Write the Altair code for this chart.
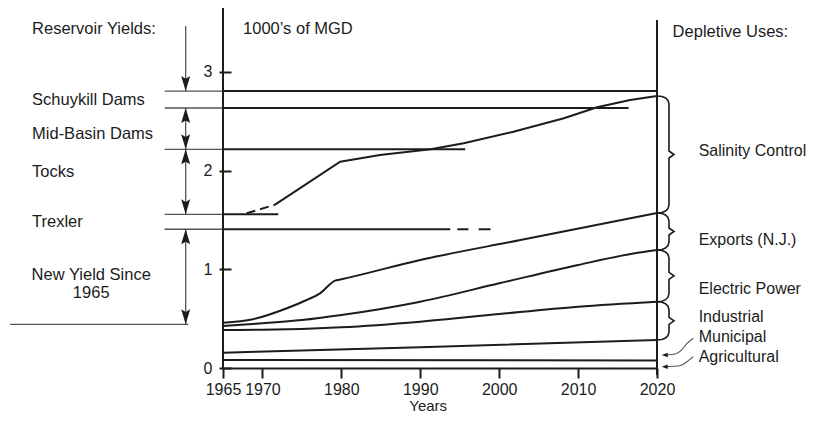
import altair as alt
import pandas as pd

# ---------------- data ----------------
# Depletive uses: cumulative curves, 1000's of MGD
agri_years = [1965, 2020]
agri_vals = [0.081, 0.076]
muni_years = [1965, 1990, 2020]
muni_vals = [0.155, 0.21, 0.284]
indus_years = [1965, 1970, 1980, 1990, 2000, 2010, 2020]
indus_vals = [0.385, 0.387, 0.412, 0.469, 0.547, 0.621, 0.672]
elec_years = [1965, 1970, 1975, 1980, 1990, 2000, 2010, 2017, 2020]
elec_vals = [0.426, 0.453, 0.486, 0.537, 0.672, 0.858, 1.044, 1.16, 1.196]
export_years = [1965, 1968.8, 1973.1, 1975.6, 1977.3, 1979.2, 1980, 1990, 2002.7, 2020]
export_vals = [0.459, 0.494, 0.605, 0.689, 0.757, 0.885, 0.899, 1.095, 1.297, 1.571]
salinity_dash_years = [1968.0, 1971.6]
salinity_dash_vals = [1.568, 1.655]
salinity_years = [1971.6, 1979.85, 1984.9, 1991.3, 1995.5, 2001.8, 2008.2, 2012.4, 2016.6, 2020]
salinity_vals = [1.655, 2.091, 2.159, 2.216, 2.277, 2.395, 2.531, 2.642, 2.716, 2.757]

use_labels = ["Salinity Control", "Exports (N.J.)", "Electric Power",
              "Industrial", "Municipal", "Agricultural"]

# Reservoir yields: horizontal levels
yield_levels = [2.807, 2.635, 2.216, 1.558, 1.406, 0.443]
yield_start = [1957.6, 1957.6, 1957.6, 1957.6, 1957.6, 1938.0]
yield_end = [2020, 2016.4, 1995.7, 1972.0, 1993.8, 1960.6]
trexler_dash_start = [1994.7, 1997.4]
trexler_dash_end = [1996.1, 1998.9]
yield_labels = ["Schuykill Dams", "Mid-Basin Dams", "Tocks", "Trexler"]

x_ticks = [1965, 1970, 1980, 1990, 2000, 2010, 2020]
y_ticks = [0, 1, 2, 3]

# ---------------- layout / style ----------------
INK = "#1c1c1c"
GREY = "#555555"
FONT = "Liberation Sans"
FS = 16.5
W, H = 434, 360
X0, X1 = 1965, 2020
Y0, Y1 = 0, 3.6486
PX_X = W / (X1 - X0)
PX_Y = H / (Y1 - Y0)

xs = alt.Scale(domain=[X0, X1], nice=False, zero=False)
ys = alt.Scale(domain=[Y0, Y1], nice=False, zero=False)
xaxis = alt.Axis(values=x_ticks, format="d", title=None, tickSize=10, tickWidth=2,
                 tickColor=INK, domainColor=INK, domainWidth=2, labelFontSize=16,
                 labelFont=FONT, labelColor=INK, labelPadding=3, grid=False,
                 labelFlush=False, labelOverlap=False)
yaxis = alt.Axis(values=y_ticks, format="d", title=None, tickSize=12, tickWidth=2,
                 tickColor=INK, domain=False, offset=-8, labelFontSize=16,
                 labelFont=FONT, labelColor=INK, labelPadding=7, grid=False,
                 labelFlush=False, labelOverlap=False)


def X(f):
    return alt.X(f, type="quantitative", scale=xs, axis=xaxis)


def Y(f):
    return alt.Y(f, type="quantitative", scale=ys, axis=yaxis)


# ---------------- curves ----------------
rows = []
for name, yrs, vals in [("agri", agri_years, agri_vals), ("muni", muni_years, muni_vals),
                        ("indus", indus_years, indus_vals), ("elec", elec_years, elec_vals),
                        ("export", export_years, export_vals)]:
    for i, (yr, v) in enumerate(zip(yrs, vals)):
        rows.append({"s": name, "year": yr, "val": v, "i": i})
curves = pd.DataFrame(rows)
sal_df = pd.DataFrame({"year": salinity_years, "val": salinity_vals})
dash_df = pd.DataFrame({"year": salinity_dash_years, "val": salinity_dash_vals})

curve_layer = alt.Chart(curves).mark_line(color=INK, strokeWidth=2, interpolate="monotone").encode(
    x=X("year"), y=Y("val"), detail="s:N", order="i:Q")
sal_layer = alt.Chart(sal_df).mark_line(color=INK, strokeWidth=2).encode(
    x=X("year"), y=Y("val"))
dash_layer = alt.Chart(dash_df).mark_line(color=INK, strokeWidth=2, strokeDash=[9, 5]).encode(
    x=X("year"), y=Y("val"))

# ---------------- reservoir yield levels ----------------
left_rows, right_rows = [], []
for lv, s, e in zip(yield_levels, yield_start, yield_end):
    left_rows.append({"x0": s, "x1": min(e, X0), "y": lv})
    if e > X0:
        right_rows.append({"x0": X0, "x1": e, "y": lv})
for s, e in zip(trexler_dash_start, trexler_dash_end):
    right_rows.append({"x0": s, "x1": e, "y": yield_levels[4]})
left_lv = alt.Chart(pd.DataFrame(left_rows)).mark_rule(color=GREY, strokeWidth=1.3).encode(
    x=X("x0"), x2="x1", y=Y("y"))
right_lv = alt.Chart(pd.DataFrame(right_rows)).mark_rule(color=INK, strokeWidth=2).encode(
    x=X("x0"), x2="x1", y=Y("y"))

# axis frame lines
frame = pd.DataFrame({"x": [X0, X1], "y0": [Y0, -0.071], "y1": [Y1, 3.527]})
frame_layer = alt.Chart(frame).mark_rule(color=INK, strokeWidth=2).encode(
    x=X("x"), y=Y("y0"), y2="y1")

# ---------------- left vertical arrows ----------------
ARROW_X = 1960.27
top_of_arrow = 3.466
seg = pd.DataFrame({
    "x": [ARROW_X] * 4,
    "y0": [top_of_arrow, yield_levels[1], yield_levels[2], yield_levels[4]],
    "y1": [yield_levels[0], yield_levels[2], yield_levels[3], yield_levels[5]],
})
seg_layer = alt.Chart(seg).mark_rule(color=GREY, strokeWidth=1.3).encode(
    x=X("x"), y=Y("y0"), y2="y1")
DOWN = "M0,0L-0.6,-2L0,-1.65L0.6,-2Z"
UP = "M0,0L-0.6,2L0,1.65L0.6,2Z"
down_df = pd.DataFrame({"x": [ARROW_X] * 4,
                        "y": [yield_levels[0], yield_levels[2], yield_levels[3], yield_levels[5]]})
up_df = pd.DataFrame({"x": [ARROW_X] * 3,
                      "y": [yield_levels[1], yield_levels[2], yield_levels[4]]})
down_layer = alt.Chart(down_df).mark_point(shape=DOWN, filled=True, size=225, color=INK,
                                           opacity=1, strokeWidth=0).encode(x=X("x"), y=Y("y"))
up_layer = alt.Chart(up_df).mark_point(shape=UP, filled=True, size=225, color=INK,
                                       opacity=1, strokeWidth=0).encode(x=X("x"), y=Y("y"))

# ---------------- braces on the right ----------------
ends = [salinity_vals[-1], export_vals[-1], elec_vals[-1], indus_vals[-1], muni_vals[-1]]
brace_rows = []
for b in range(4):
    top, bot = ends[b], ends[b + 1]
    h = (top - bot) * PX_Y
    c, tip = 12, 5
    pts = [(0, 0), (5, 0.5), (8.5, 2), (11, 4.5), (c, min(8, h / 2 - 5)),
           (c, h / 2 - 3.5), (c + tip, h / 2), (c, h / 2 + 3.5), (c, max(h - 8, h / 2 + 5)),
           (11, h - 4.5), (8.5, h - 2), (5, h - 0.5), (0, h)]
    for i, (dx, dy) in enumerate(pts):
        brace_rows.append({"b": b, "i": i, "year": X1 + dx / PX_X, "val": top - dy / PX_Y})
brace_layer = alt.Chart(pd.DataFrame(brace_rows)).mark_line(color=INK, strokeWidth=1.6).encode(
    x=X("year"), y=Y("val"), detail="b:N", order="i:Q")

# small curved arrows for Municipal / Agricultural
arrow_rows = []
a1 = [(2024.6, 0.301), (2023.8, 0.250), (2023.1, 0.182), (2022.3, 0.142), (2021.2, 0.132)]
a2 = [(2024.6, 0.115), (2023.8, 0.064), (2022.9, 0.023), (2021.2, 0.013)]
for k, path in enumerate([a1, a2]):
    for i, (xx, yy) in enumerate(path):
        arrow_rows.append({"a": k, "i": i, "year": xx, "val": yy})
arrow_layer = alt.Chart(pd.DataFrame(arrow_rows)).mark_line(
    color=GREY, strokeWidth=1.1, interpolate="monotone").encode(
    x=X("year"), y=Y("val"), detail="a:N", order="i:Q")
LEFT = "M0,0L2,-0.75L2,0.75Z"
head_df = pd.DataFrame({"year": [2020.6, 2020.6], "val": [0.132, 0.013]})
head_layer = alt.Chart(head_df).mark_point(shape=LEFT, filled=True, size=36, color=INK,
                                           opacity=1, strokeWidth=0).encode(
    x=X("year"), y=Y("val"))

# ---------------- text ----------------
def text_layer(df, align="left", size=FS):
    return alt.Chart(df).mark_text(align=align, baseline="middle", font=FONT,
                                   fontSize=size, color=INK).encode(
        x=X("x"), y=Y("y"), text="t:N")


left_text = pd.DataFrame({
    "t": ["Reservoir Yields:"] + yield_labels,
    "x": [1940.8] * 5,
    "y": [3.436, 2.716, 2.372, 1.986, 1.483],
})
center_text = pd.DataFrame({
    "t": ["New Yield Since", "1965"],
    "x": [1948.3, 1948.3],
    "y": [0.943, 0.757],
})
title_text = pd.DataFrame({"t": ["Years"], "x": [1991.0], "y": [-0.39]})
top_text = pd.DataFrame({
    "t": ["1000\u2019s of MGD", "Depletive Uses:"],
    "x": [1967.54, 2021.98],
    "y": [3.436, 3.408],
})
right_text = pd.DataFrame({
    "t": use_labels,
    "x": [2025.28] * 6,
    "y": [2.202, 1.297, 0.798, 0.520, 0.317, 0.115],
})

chart = alt.layer(
    curve_layer, sal_layer, dash_layer, left_lv, right_lv, frame_layer, seg_layer,
    down_layer, up_layer, brace_layer, arrow_layer, head_layer,
    text_layer(left_text), text_layer(center_text, "center"), text_layer(top_text),
    text_layer(right_text, "left", 16), text_layer(title_text, "center", 15),
).properties(
    width=W, height=H,
    padding={"left": 215, "top": 0, "right": 149, "bottom": 47},
    autosize=alt.AutoSizeParams(type="none"),
    background="white",
).configure_view(stroke=None)

chart.save("out.html", embed_options={"renderer": "svg", "actions": False})
